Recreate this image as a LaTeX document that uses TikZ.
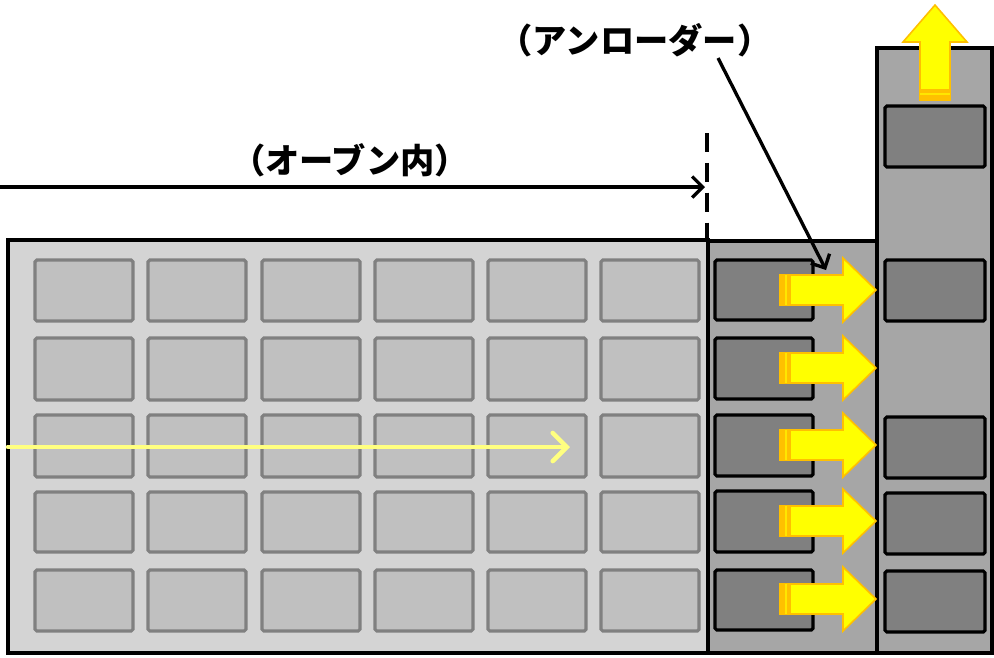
\documentclass[tikz,border=0pt]{standalone}
\usepackage{fontspec}
\newfontfamily\jpfont{Noto Sans CJK JP}
\usetikzlibrary{arrows.meta}
\definecolor{ovenbg}{HTML}{D4D4D4}
\definecolor{cellbg}{HTML}{C0C0C0}
\definecolor{cellline}{HTML}{808080}
\definecolor{unloadbg}{HTML}{A6A6A6}
\definecolor{traydark}{HTML}{808080}
\definecolor{flowyellow}{HTML}{FFFF00}
\definecolor{floworange}{HTML}{FFC000}
\definecolor{pathyellow}{HTML}{FFFF80}
\tikzset{
  frame/.style={draw=black,line width=2.5pt},
  ovencell/.style={draw=cellline,fill=cellbg,line width=1.8pt,rounded corners=1pt},
  traycell/.style={draw=black,fill=traydark,line width=1.8pt,rounded corners=1pt},
  flow/.style={draw=floworange,fill=flowyellow,line width=0.9pt,line join=miter},
  flowtail/.style={fill=floworange},
  pointer/.style={-{Straight Barb[length=6pt,width=12pt]},line width=1.9pt,draw=black},
  travel/.style={-{Straight Barb[length=8pt,width=16pt,line cap=round]},line width=2.6pt,draw=pathyellow,line cap=round},
  label/.style={font=\jpfont\bfseries\fontsize{19.5pt}{22pt}\selectfont,text=black,inner sep=0pt}
}

\begin{document}
\begin{tikzpicture}[x=0.02cm,y=-0.02cm]
  \useasboundingbox (0,0) rectangle (994,657);

  % housings
  \draw[frame,fill=ovenbg] (8,240) rectangle (708,653);
  \draw[frame,fill=unloadbg] (708,241) rectangle (877,653);
  \draw[frame,fill=unloadbg] (877,48) rectangle (992,653);

  % oven trays, 6 x 5
  \foreach \x in {35,148,262,375,488,601}
    \foreach \y/\h in {260/61,338/62,415/62,492/60,570/61}
      \draw[ovencell] (\x,\y) rectangle ++(98,\h);

  % unloader trays
  \foreach \y/\h in {260/60,338/61,415/61,491/61,570/60}
    \draw[traycell] (715,\y) rectangle ++(98,\h);

  % lift trays
  \foreach \y in {106,260,417,493,571}
    \draw[traycell] (885,\y) rectangle ++(100,61);

  % transfer arrows
  \foreach \c in {290,368,445,521,599}{
    \draw[flow] (780,\c-15) -- (843,\c-15) -- (843,\c-32) -- (876,\c)
      -- (843,\c+32) -- (843,\c+15) -- (780,\c+15) -- cycle;
    \fill[flowtail] (780,\c-15) rectangle (791,\c+15);
    \draw[flowyellow!60!floworange,line width=0.6pt] (786,\c-15) -- (786,\c+15);
  }

  % exit arrow
  \draw[flow] (920,100) -- (920,42) -- (903,42) -- (935,5) -- (967,42)
    -- (950,42) -- (950,100) -- cycle;
  \fill[flowtail] (920,89) rectangle (950,100);
  \draw[flowyellow!60!floworange,line width=0.6pt] (920,94) -- (950,94);

  % travel inside the oven
  \coordinate (travelstart) at (8,447);
  \coordinate (travelend) at (570,447);
  \draw[travel] (travelstart) -- (travelend);

  % labels and pointers
  \node[label] (ovenlabel) at (350,160) {（オーブン内）};
  \node[label] (unloaderlabel) at (635,40) {（アンローダー）};
  \coordinate (ovenstart) at (0,187);
  \coordinate (ovenend) at (705,187);
  \draw[pointer] (ovenstart) -- (ovenend);
  \coordinate (limittop) at (707,133);
  \coordinate (limitbottom) at (707,240);
  \draw[line width=1.9pt,dash pattern=on 11pt off 6pt] (limittop) -- (limitbottom);
  \coordinate (unloaderfrom) at (718,58);
  \coordinate (unloaderto) at (826,270);
  \draw[pointer] (unloaderfrom) -- (unloaderto);
\end{tikzpicture}
\end{document}
